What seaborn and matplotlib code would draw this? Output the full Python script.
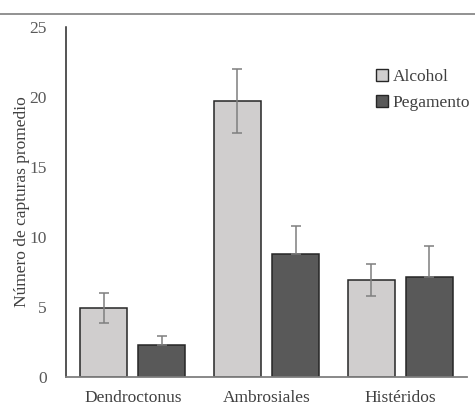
import numpy as np
import pandas as pd
import matplotlib
matplotlib.use('Agg')
import matplotlib.pyplot as plt
import seaborn as sns
from matplotlib.lines import Line2D
from matplotlib.patches import Patch

# data
grupos = ['Dendroctonus', 'Ambrosiales', 'Histéridos']
alcohol = [4.9, 19.7, 6.95]
alcohol_err = [1.07, 2.3, 1.13]
pegamento = [2.3, 8.77, 7.12]
pegamento_err = [0.62, 2.03, 2.21]

df = pd.DataFrame({
    'grupo': grupos * 2,
    'trampa': ['Alcohol'] * 3 + ['Pegamento'] * 3,
    'capturas': alcohol + pegamento,
})

sns.set_style('white')
plt.rcParams['font.family'] = ['Liberation Serif', 'DejaVu Serif']

colores = {'Alcohol': '#D0CECE', 'Pegamento': '#595959'}

fig = plt.figure(figsize=(4.75, 4.05), dpi=100)
ax = fig.add_axes([66 / 475, 28 / 405, 401 / 475, 350 / 405])

sns.barplot(data=df, x='grupo', y='capturas', hue='trampa', palette=colores,
            width=0.87, gap=0.19, edgecolor='#262626', linewidth=1.1,
            errorbar=None, legend=False, ax=ax)

# error bars on top of the bars
bars = [p for p in ax.patches]
xs = [b.get_x() + b.get_width() / 2 for b in bars]
x_alc = xs[:3]
x_peg = xs[3:]
ax.errorbar(x_alc, alcohol, yerr=alcohol_err, fmt='none', ecolor='#7F7F7F',
            elinewidth=1.1, capsize=3.5, capthick=1.1, zorder=5)
ax.errorbar(x_peg, pegamento, yerr=[[0, 0, 0], pegamento_err], fmt='none',
            ecolor='#7F7F7F', elinewidth=1.1, capsize=3.5, capthick=1.1, zorder=5)

ax.set_xlim(-0.5, 2.5)
ax.set_ylim(0, 25)
ax.set_yticks([0, 5, 10, 15, 20, 25])
ax.set_xlabel('')
ax.set_ylabel('Número de capturas promedio', fontsize=12.5, color='#404040')
ax.yaxis.set_label_coords(-0.09, 0.5)
ax.tick_params(axis='y', labelsize=12.5, colors='#595959', length=0, pad=14)
ax.tick_params(axis='x', labelsize=12.5, colors='#404040', length=0, pad=9)

for s in ['top', 'right']:
    ax.spines[s].set_visible(False)
ax.spines['left'].set_color('#262626')
ax.spines['left'].set_linewidth(1.1)
ax.spines['bottom'].set_color('#7F7F7F')
ax.spines['bottom'].set_linewidth(1.3)

handles = [Patch(facecolor=colores[k], edgecolor='#262626', linewidth=1.0, label=k)
           for k in ['Alcohol', 'Pegamento']]
ax.legend(handles=handles, loc='upper left', bbox_to_anchor=(0.772, 0.88),
          borderaxespad=0, borderpad=0, frameon=False, fontsize=12.5,
          handlelength=0.7, handleheight=0.7, handletextpad=0.3,
          labelspacing=0.55, labelcolor='#404040')

# thin rule across the top of the figure
fig.add_artist(Line2D([0, 1], [1 - 13.5 / 405] * 2, color='#7F7F7F', linewidth=1.2))

fig.savefig('out.png', dpi=100)
